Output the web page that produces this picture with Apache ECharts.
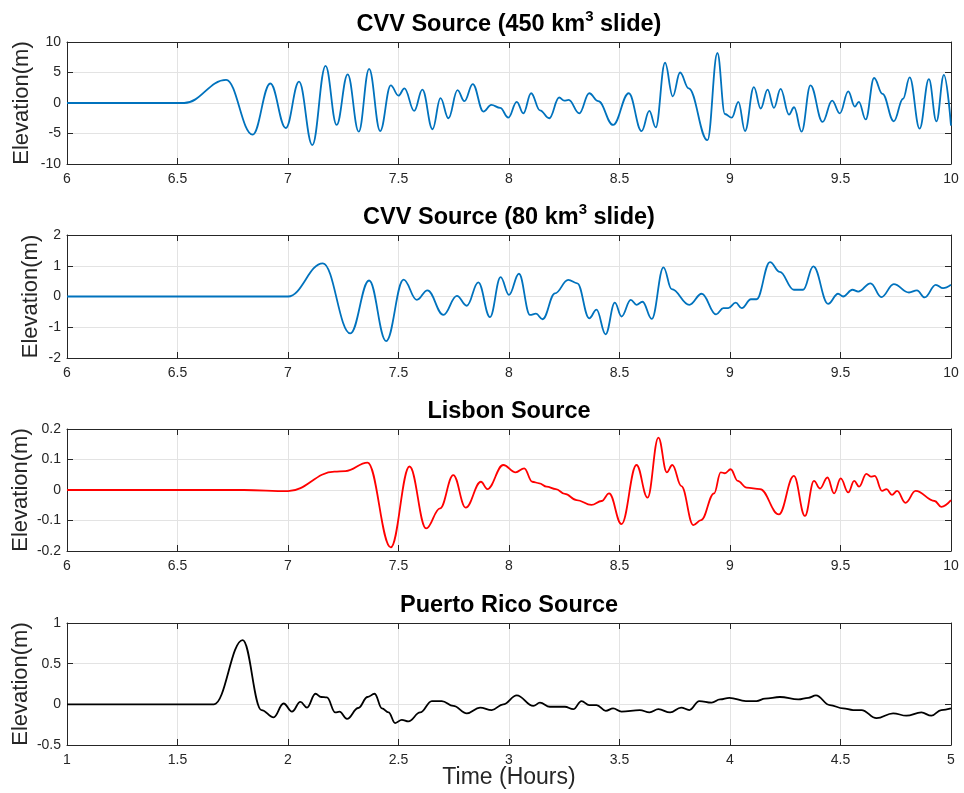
<!DOCTYPE html>
<html>
<head>
<meta charset="utf-8">
<title>Tsunami elevation</title>
<script src="https://cdn.jsdelivr.net/npm/echarts@6/dist/echarts.min.js"></script>
<style>
  html, body { margin: 0; padding: 0; background: #fff; }
  #main { width: 964px; height: 793px; }
</style>
</head>
<body>
<div id="main"></div>
<script>
// [time (hours), elevation (m)]
var cvv450 = [[6,0],[6.53,0],[6.72,3.8],[6.84,-5.2],[6.92,3.2],[6.99,-4.1],[7.05,3.5],[7.11,-6.9],[7.17,6.1],
  [7.22,-3.6],[7.27,4.7],[7.32,-4.7],[7.367,5.6],[7.417,-4.6],[7.465,2.9],[7.5,1.2],[7.527,2.4],[7.571,-1.3],
  [7.608,2.2],[7.654,-4.3],[7.69,0.8],[7.726,-2.5],[7.767,2.1],[7.798,0.3],[7.836,3.1],[7.884,-1.4],[7.92,-0.3],
  [7.96,-0.8],[7.997,-2.4],[8.035,0.2],[8.065,-1.7],[8.1,1.6],[8.14,-1.2],[8.182,-2.5],[8.227,0.9],[8.25,0.4],
  [8.27,0.5],[8.318,-1.7],[8.363,1.6],[8.404,0.3],[8.471,-3.6],[8.542,1.6],[8.6,-4.6],[8.635,-1.3],[8.664,-4.0],
  [8.706,6.6],[8.741,1.1],[8.774,5.0],[8.813,2.4],[8.898,-6.1],[8.943,8.2],[8.977,-1.8],[9.008,-2.4],[9.038,0.2],
  [9.068,-4.6],[9.108,2.6],[9.139,-0.9],[9.17,2.2],[9.199,-0.8],[9.229,2.3],[9.267,-1.9],[9.29,-0.7],[9.324,-4.7],
  [9.364,2.9],[9.419,-3.1],[9.462,0.4],[9.497,-1.7],[9.535,1.9],[9.565,-0.6],[9.583,0.2],[9.614,-2.7],[9.652,4.1],
  [9.69,1.5],[9.741,-3.0],[9.783,0.7],[9.813,4.2],[9.858,-4.2],[9.9,3.9],[9.934,-3.0],[9.968,4.6],[10,-3.7]];

var cvv80 = [[6,0],[7.0,0],[7.158,1.08],[7.282,-1.2],[7.367,0.52],[7.444,-1.45],[7.523,0.55],[7.583,-0.11],
  [7.631,0.2],[7.703,-0.6],[7.764,0.02],[7.809,-0.3],[7.861,0.46],[7.914,-0.67],[7.962,0.63],[8.0,0.05],
  [8.045,0.74],[8.095,-0.6],[8.122,-0.56],[8.152,-0.74],[8.208,0.1],[8.268,0.54],[8.309,0.43],[8.363,-0.71],
  [8.396,-0.43],[8.437,-1.23],[8.479,-0.2],[8.509,-0.65],[8.551,-0.11],[8.577,-0.27],[8.604,-0.17],[8.646,-0.73],
  [8.699,0.95],[8.736,0.24],[8.816,-0.27],[8.872,0.09],[8.937,-0.58],[8.97,-0.38],[8.992,-0.38],[9.026,-0.2],
  [9.053,-0.38],[9.095,-0.09],[9.12,-0.09],[9.181,1.12],[9.225,0.8],[9.289,0.22],[9.331,0.22],[9.377,0.98],
  [9.444,-0.24],[9.489,0.09],[9.512,0.0],[9.554,0.22],[9.58,0.16],[9.636,0.43],[9.685,-0.02],[9.741,0.4],
  [9.81,0.13],[9.846,0.2],[9.881,-0.03],[9.931,0.38],[9.964,0.27],[10,0.38]];

var lisbon = [[6,0],[6.8,0],[7.0,-0.004],[7.21,0.06],[7.26,0.062],[7.36,0.09],[7.465,-0.188],[7.55,0.077],
  [7.625,-0.126],[7.688,-0.06],[7.748,0.049],[7.804,-0.058],[7.873,0.027],[7.902,0.003],[7.974,0.082],
  [8.03,0.058],[8.069,0.071],[8.105,0.027],[8.137,0.022],[8.17,0.011],[8.212,0.003],[8.253,-0.013],
  [8.306,-0.033],[8.373,-0.049],[8.419,-0.036],[8.453,-0.011],[8.509,-0.112],[8.577,0.082],[8.627,-0.025],
  [8.676,0.172],[8.714,0.058],[8.739,0.082],[8.78,0.013],[8.834,-0.115],[8.869,-0.099],[8.928,-0.011],
  [8.958,0.058],[8.977,0.055],[9.003,0.068],[9.035,0.03],[9.075,0.008],[9.136,0.003],[9.221,-0.08],
  [9.289,0.046],[9.339,-0.085],[9.38,0.03],[9.407,0.005],[9.441,0.041],[9.471,-0.011],[9.501,0.038],
  [9.535,-0.008],[9.562,0.03],[9.584,0.011],[9.617,0.053],[9.637,0.044],[9.655,0.046],[9.688,-0.003],
  [9.708,0.003],[9.733,-0.016],[9.756,-0.003],[9.794,-0.042],[9.84,-0.003],[9.926,-0.036],[9.956,-0.055],
  [10,-0.033]];

var puertoRico = [[1,0],[1.665,0],[1.795,0.79],[1.88,-0.07],[1.935,-0.16],[1.98,0.01],[2.018,-0.09],
  [2.056,0.03],[2.086,-0.04],[2.124,0.13],[2.15,0.09],[2.176,0.085],[2.214,-0.1],[2.233,-0.09],[2.267,-0.18],
  [2.318,-0.045],[2.36,0.09],[2.392,0.13],[2.425,-0.05],[2.455,-0.1],[2.485,-0.23],[2.515,-0.19],[2.545,-0.21],
  [2.598,-0.1],[2.651,0.04],[2.696,0.04],[2.748,-0.02],[2.809,-0.11],[2.869,-0.04],[2.922,-0.07],[2.974,0.0],
  [3.035,0.11],[3.11,-0.02],[3.14,0.02],[3.185,-0.03],[3.253,-0.03],[3.291,-0.06],[3.328,0.04],[3.363,-0.01],
  [3.396,-0.01],[3.438,-0.08],[3.471,-0.05],[3.509,-0.09],[3.592,-0.07],[3.636,-0.1],[3.676,-0.06],
  [3.729,-0.1],[3.779,-0.04],[3.816,-0.07],[3.861,0.04],[3.917,0.02],[3.955,0.06],[3.997,0.08],[4.072,0.04],
  [4.12,0.04],[4.158,0.07],[4.226,0.09],[4.309,0.06],[4.354,0.08],[4.389,0.11],[4.452,-0.01],[4.512,-0.05],
  [4.557,-0.07],[4.595,-0.07],[4.663,-0.17],[4.738,-0.11],[4.798,-0.14],[4.866,-0.1],[4.911,-0.14],
  [4.956,-0.07],[5,-0.05]];

var titles = ['{a|CVV Source (450 km}{s|3}{a| slide)}', '{a|CVV Source (80 km}{s|3}{a| slide)}',
  '{a|Lisbon Source}', '{a|Puerto Rico Source}'];
var xRanges = [[6, 10], [6, 10], [6, 10], [1, 5]];
var yRanges = [[-10, 10, 5], [-2, 2, 1], [-0.2, 0.2, 0.1], [-0.5, 1, 0.5]];
var lineColors = ['#0072bd', '#0072bd', '#ff0000', '#000000'];

var gridTops = [42, 235, 429, 623];
var gridHeights = [122, 123, 122, 122];
var nameGaps = [34, 25, 35, 35];
var font = 'Liberation Sans, Arial, Helvetica, sans-serif';
var ink = '#262626';

var chart = echarts.init(document.getElementById('main'));

var grid = [], xAxis = [], yAxis = [], series = [], title = [];
var datasets = [cvv450, cvv80, lisbon, puertoRico];

for (var i = 0; i < 4; i++) {
  grid.push({ left: 67, right: 13, top: gridTops[i], height: gridHeights[i], containLabel: false, outerBoundsMode: 'none' });
  title.push({
    text: titles[i], left: 504, top: gridTops[i] - 38, textAlign: 'center',
    textStyle: {
      rich: {
        a: { fontFamily: font, fontSize: 23.5, fontWeight: 'bold', color: '#000', lineHeight: 31 },
        s: { fontFamily: font, fontSize: 15, fontWeight: 'bold', color: '#000', verticalAlign: 'top', lineHeight: 31 }
      }
    }
  });
  var xr = xRanges[i], yr = yRanges[i];
  // bottom axis with labels
  xAxis.push({
    type: 'value', gridIndex: i, min: xr[0], max: xr[1], interval: 0.5, position: 'bottom',
    axisLine: { show: true, onZero: false, lineStyle: { color: ink, width: 1 } },
    axisTick: { show: true, inside: true, length: 6, lineStyle: { color: ink } },
    axisLabel: { color: ink, fontFamily: font, fontSize: 14, margin: 8 },
    splitLine: { show: true, lineStyle: { color: '#e3e3e3', width: 1 } },
    name: i === 3 ? 'Time (Hours)' : '', nameLocation: 'middle', nameGap: 21, nameMoveOverlap: false,
    nameTextStyle: { color: ink, fontFamily: font, fontSize: 23 }
  });
  // top box edge
  xAxis.push({
    type: 'value', gridIndex: i, min: xr[0], max: xr[1], interval: 0.5, position: 'top',
    axisLine: { show: true, onZero: false, lineStyle: { color: ink, width: 1 } },
    axisTick: { show: true, inside: true, length: 6, lineStyle: { color: ink } },
    axisLabel: { show: false }, splitLine: { show: false }
  });
  yAxis.push({
    type: 'value', gridIndex: i, min: yr[0], max: yr[1], interval: yr[2], position: 'left',
    axisLine: { show: true, onZero: false, lineStyle: { color: ink, width: 1 } },
    axisTick: { show: true, inside: true, length: 6, lineStyle: { color: ink } },
    axisLabel: { color: ink, fontFamily: font, fontSize: 14, margin: 6 },
    splitLine: { show: true, lineStyle: { color: '#e3e3e3', width: 1 } },
    name: 'Elevation(m)', nameLocation: 'middle', nameGap: nameGaps[i], nameMoveOverlap: false,
    nameTextStyle: { color: ink, fontFamily: font, fontSize: 22 }
  });
  yAxis.push({
    type: 'value', gridIndex: i, min: yr[0], max: yr[1], interval: yr[2], position: 'right',
    axisLine: { show: true, onZero: false, lineStyle: { color: ink, width: 1 } },
    axisTick: { show: true, inside: true, length: 6, lineStyle: { color: ink } },
    axisLabel: { show: false }, splitLine: { show: false }
  });
  series.push({
    type: 'line', xAxisIndex: i * 2, yAxisIndex: i * 2, data: datasets[i],
    showSymbol: false, smooth: 0.4, smoothMonotone: 'x', clip: true,
    lineStyle: { color: lineColors[i], width: 1.8 }, animation: false
  });
}

chart.setOption({
  animation: false,
  backgroundColor: '#fff',
  title: title,
  grid: grid,
  xAxis: xAxis,
  yAxis: yAxis,
  series: series
});
</script>
</body>
</html>
